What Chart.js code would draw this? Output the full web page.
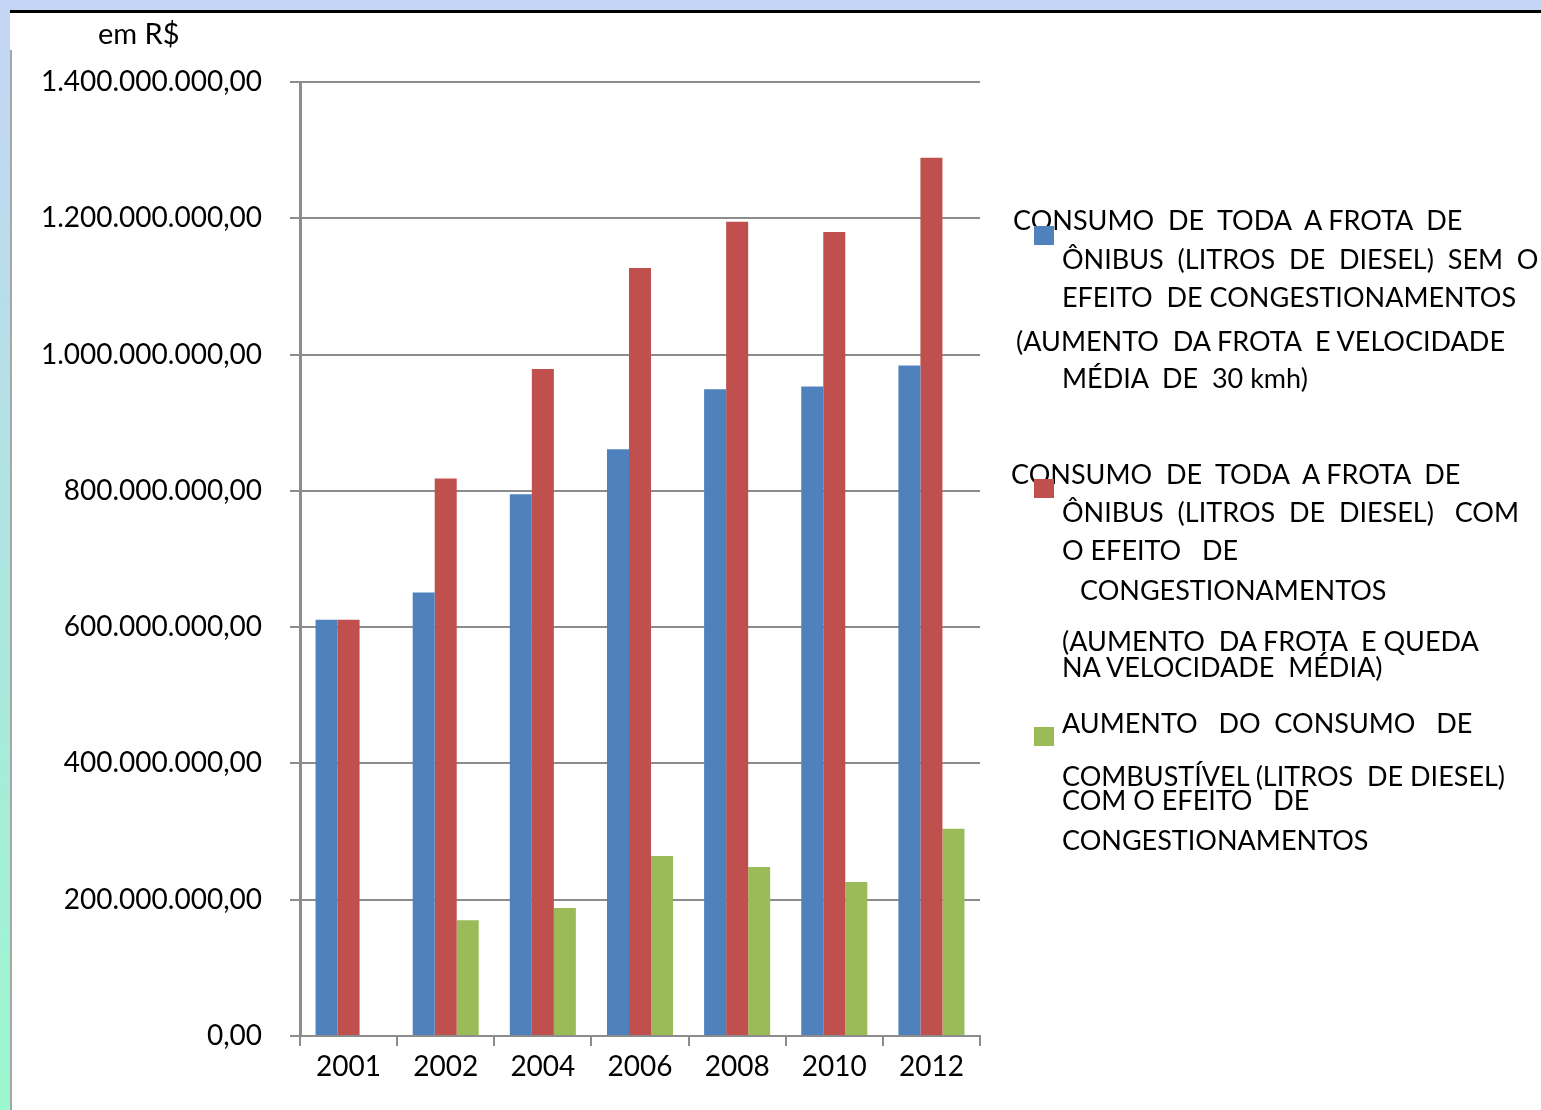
<!DOCTYPE html>
<html>
<head>
<meta charset="utf-8">
<script src="https://cdn.jsdelivr.net/npm/chart.js@4.4.0/dist/chart.umd.min.js"></script>
<style>
  html, body { margin: 0; padding: 0; background: #fff; }
  body { width: 1541px; height: 1110px; position: relative; overflow: hidden; font-family: Lato, "Open Sans", sans-serif; }
  #topband { position: absolute; left: 0; top: 0; width: 1541px; height: 10px; background: #c5d5f5; }
  #topline { position: absolute; left: 10px; top: 10px; width: 1531px; height: 3px; background: #000; }
  #leftband { position: absolute; left: 0; top: 10px; width: 10px; height: 1100px; background: linear-gradient(#c5d5f5, #b4e0e6 35%, #a6ecd8 70%, #9cf8d0); }
  #leftline { position: absolute; left: 10px; top: 50px; width: 2px; height: 1060px; background: #a6a6a6; }
  #wrap { position: absolute; left: 0; top: 0; width: 1541px; height: 1110px; }
  .unit { position: absolute; left: 98px; top: 15px; font-size: 29px; color: #000; }
  .lg { position: absolute; font-size: 27px; color: #000; white-space: pre; line-height: 1; }
  .sw { position: absolute; width: 20px; height: 19px; }
</style>
</head>
<body>
<div id="topband"></div>
<div id="leftband"></div>
<div id="topline"></div>
<div id="leftline"></div>
<div id="wrap"><canvas id="chart" width="1541" height="1110"></canvas></div>
<div class="unit">em R$</div>
<div id="legend"></div>
<script>
const years = ['2001', '2002', '2004', '2006', '2008', '2010', '2012'];
const semCongestionamento = [611e6, 651e6, 795e6, 861e6, 949e6, 953e6, 984e6];
const comCongestionamento = [611e6, 818e6, 979e6, 1127e6, 1195e6, 1180e6, 1289e6];
const aumentoConsumo = [0, 170e6, 188e6, 264e6, 248e6, 226e6, 304e6];
const yTicks = [0, 200e6, 400e6, 600e6, 800e6, 1000e6, 1200e6, 1400e6];

const colors = ['#4f81bd', '#c0504d', '#9bbb59'];

// legend lines: [series index or null, text, x, y(center)]
const legendLines = [
    [0, 'CONSUMO  DE  TODA  A FROTA  DE', 1013, 220],
    [null, 'ÔNIBUS  (LITROS  DE  DIESEL)  SEM  O', 1062, 259],
    [null, 'EFEITO  DE CONGESTIONAMENTOS', 1062, 297],
    [null, '(AUMENTO  DA FROTA  E VELOCIDADE', 1016, 341],
    [null, 'MÉDIA  DE  30 kmh)', 1062, 378],
    [1, 'CONSUMO  DE  TODA  A FROTA  DE', 1011, 474],
    [null, 'ÔNIBUS  (LITROS  DE  DIESEL)   COM', 1062, 512],
    [null, 'O EFEITO   DE', 1062, 550],
    [null, 'CONGESTIONAMENTOS', 1080, 590],
    [null, '(AUMENTO  DA FROTA  E QUEDA', 1062, 641],
    [null, 'NA VELOCIDADE  MÉDIA)', 1062, 667],
    [2, 'AUMENTO   DO  CONSUMO   DE', 1062, 723],
    [null, 'COMBUSTÍVEL (LITROS  DE DIESEL)', 1062, 776],
    [null, 'COM O EFEITO   DE', 1062, 800],
    [null, 'CONGESTIONAMENTOS', 1062, 840]
];
const swatchY = [226, 479, 727];

const legendEl = document.getElementById('legend');
legendLines.forEach(([idx, text, x, y]) => {
    const d = document.createElement('div');
    d.className = 'lg';
    d.textContent = text;
    d.style.left = x + 'px';
    d.style.top = (y - 14) + 'px';
    legendEl.appendChild(d);
    if (idx !== null) {
        const s = document.createElement('div');
        s.className = 'sw';
        s.style.left = '1034px';
        s.style.top = swatchY[idx] + 'px';
        s.style.background = colors[idx];
        legendEl.appendChild(s);
    }
});

function fmt(v) {
    // 1400000000 -> 1.400.000.000,00
    const s = Math.round(v).toString().replace(/\B(?=(\d{3})+(?!\d))/g, '.');
    return s + ',00';
}

const gridColor = '#8c8c8c';

new Chart(document.getElementById('chart'), {
    type: 'bar',
    data: {
        labels: years,
        datasets: [
            { label: 'sem', data: semCongestionamento, backgroundColor: colors[0] },
            { label: 'com', data: comCongestionamento, backgroundColor: colors[1] },
            { label: 'aumento', data: aumentoConsumo, backgroundColor: colors[2] }
        ]
    },
    options: {
        responsive: false,
        animation: false,
        events: [],
        layout: { padding: { left: 0, right: 561, top: 82, bottom: 0 } },
        datasets: { bar: { categoryPercentage: 0.68, barPercentage: 1.0 } },
        plugins: { legend: { display: false }, tooltip: { enabled: false } },
        scales: {
            x: {
                afterFit: (s) => { s.height = 74; },
                grid: { offset: true, drawOnChartArea: false, drawTicks: true, tickLength: 10, color: gridColor, lineWidth: 2 },
                border: { display: true, color: gridColor, width: 2 },
                ticks: { color: '#000', font: { family: 'Lato', size: 28 }, padding: 4 }
            },
            y: {
                min: 0,
                max: 1400e6,
                afterFit: (s) => { s.width = 300; },
                afterBuildTicks: (s) => { s.ticks = yTicks.map(v => ({ value: v })); },
                grid: { color: gridColor, lineWidth: 2, drawTicks: true, tickLength: 10 },
                border: { display: true, color: gridColor, width: 3 },
                ticks: { color: '#000', font: { family: 'Lato', size: 28 }, padding: 28, callback: (v) => fmt(v) }
            }
        }
    }
});
</script>
</body>
</html>
